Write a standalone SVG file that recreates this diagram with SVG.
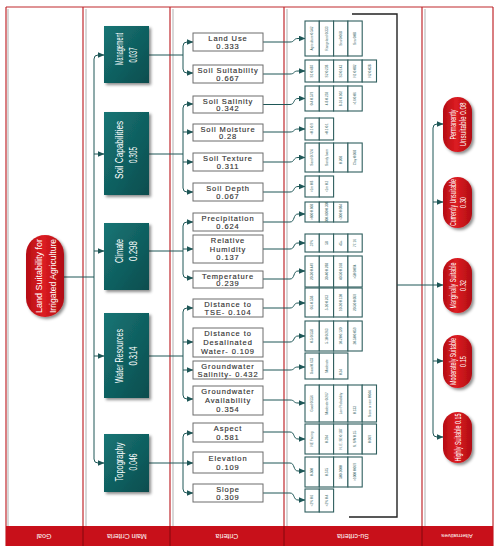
<svg xmlns="http://www.w3.org/2000/svg" width="501" height="550" viewBox="0 0 501 550">
<defs>
<linearGradient id="teal" x1="0" y1="0" x2="1" y2="1"><stop offset="0" stop-color="#177575"/><stop offset="1" stop-color="#0a4d4e"/></linearGradient>
<linearGradient id="red" x1="0" y1="0" x2="1" y2="0"><stop offset="0" stop-color="#b50d14"/><stop offset="0.45" stop-color="#dc1c22"/><stop offset="1" stop-color="#b00c12"/></linearGradient>
<filter id="sh" x="-20%" y="-20%" width="150%" height="150%"><feDropShadow dx="2" dy="2" stdDeviation="1.5" flood-color="#000" flood-opacity="0.45"/></filter>
<marker id="ar" markerWidth="7" markerHeight="6" refX="6.5" refY="3" orient="auto" markerUnits="userSpaceOnUse"><path d="M0,0 L7,3 L0,6 Z" fill="#1e5757"/></marker>
<style>
.col{stroke:#c0282d;stroke-width:1.2;fill:none}
.shd{stroke:#d8d8d8;stroke-width:2;fill:none}
.band{fill:#c8101a}
.bl{font-family:"Liberation Sans",Arial,sans-serif;font-size:7px;fill:#fff;text-anchor:middle}
.mb{fill:url(#teal);filter:url(#sh)}
.mt{font-family:"Liberation Sans Narrow","Liberation Sans",Arial,sans-serif;font-size:10px;fill:#fff;text-anchor:middle}
.pill{fill:url(#red);filter:url(#sh)}
.pt{font-family:"Liberation Sans Narrow","Liberation Sans",Arial,sans-serif;font-size:9px;fill:#fff;text-anchor:middle}
.cb{fill:#fff;stroke:#6d6d6d;stroke-width:1}
.ct{font-family:"Liberation Sans",Arial,sans-serif;font-size:7.5px;letter-spacing:0.9px;fill:#333;stroke:#333;stroke-width:0.15;text-anchor:middle}
.sc{fill:#fff;stroke:#2e5e5e;stroke-width:1.1}
.st{font-family:"Liberation Sans",Arial,sans-serif;font-size:3.2px;fill:#2e5e5e;text-anchor:middle}
.cn{stroke:#1e5757;stroke-width:1;fill:none}
.fr{stroke:#222;stroke-width:1.4;fill:none}
</style>
</defs>
<rect x="0" y="0" width="501" height="550" fill="#fff"/>

<g id="frame">
<line class="shd" x1="8" y1="9" x2="8" y2="526"/>
<line class="shd" x1="86" y1="9" x2="86" y2="526"/>
<line class="shd" x1="173" y1="9" x2="173" y2="526"/>
<line class="shd" x1="287" y1="9" x2="287" y2="526"/>
<line class="shd" x1="425" y1="9" x2="425" y2="526"/>
<line class="col" x1="6" y1="7" x2="493" y2="7"/>
<line class="col" x1="6" y1="7" x2="6" y2="546"/>
<line class="col" x1="83" y1="7" x2="83" y2="526"/>
<line class="col" x1="170" y1="7" x2="170" y2="526"/>
<line class="col" x1="284" y1="7" x2="284" y2="526"/>
<line class="col" x1="422" y1="7" x2="422" y2="526"/>
<line class="col" x1="493" y1="7" x2="493" y2="546"/>
<rect class="band" x="6" y="526" width="487" height="20"/>
<g stroke="#8e0a10" stroke-width="1.2"><line x1="83" y1="526" x2="83" y2="546"/><line x1="170" y1="526" x2="170" y2="546"/><line x1="284" y1="526" x2="284" y2="546"/><line x1="422" y1="526" x2="422" y2="546"/></g>
<text class="bl" transform="translate(44,536) rotate(180)" dy="2.5">Goal</text>
<text class="bl" transform="translate(127,536) rotate(180)" dy="2.5">Main Criteria</text>
<text class="bl" transform="translate(227,536) rotate(180)" dy="2.5">Criteria</text>
<text class="bl" transform="translate(353,536) rotate(180)" dy="2.5">Su-criteria</text>
<text class="bl" transform="translate(457,536) rotate(180)" dy="2.5" style="font-size:6px">Alternatives</text>
</g>

<g id="connectors">
<path class="cn" d="M64,277 H94"/>
<path class="cn" d="M94,277 V59 Q94,55 98,55 H104" marker-end="url(#ar)"/>
<path class="cn" d="M94,277 V459 Q94,463 98,463 H104" marker-end="url(#ar)"/>
<path class="cn" d="M94,154 H104" marker-end="url(#ar)"/>
<path class="cn" d="M94,251 H104" marker-end="url(#ar)"/>
<path class="cn" d="M94,356 H104" marker-end="url(#ar)"/>

<path class="cn" d="M149,55 H183"/>
<path class="cn" d="M183,55 V46 Q183,42 187,42 H193" marker-end="url(#ar)"/>
<path class="cn" d="M183,55 V69 Q183,73 187,73 H193" marker-end="url(#ar)"/>

<path class="cn" d="M149,154 H183"/>
<path class="cn" d="M183,154 V108 Q183,104 187,104 H193" marker-end="url(#ar)"/>
<path class="cn" d="M183,154 V188 Q183,192 187,192 H193" marker-end="url(#ar)"/>
<path class="cn" d="M183,132 H193" marker-end="url(#ar)"/>
<path class="cn" d="M183,162 H193" marker-end="url(#ar)"/>

<path class="cn" d="M149,251 H183"/>
<path class="cn" d="M183,251 V226 Q183,222 187,222 H193" marker-end="url(#ar)"/>
<path class="cn" d="M183,251 V274 Q183,278 187,278 H193" marker-end="url(#ar)"/>
<path class="cn" d="M183,249 H193" marker-end="url(#ar)"/>

<path class="cn" d="M149,356 H183"/>
<path class="cn" d="M183,356 V312 Q183,308 187,308 H193" marker-end="url(#ar)"/>
<path class="cn" d="M183,356 V395 Q183,399 187,399 H193" marker-end="url(#ar)"/>
<path class="cn" d="M183,342 H193" marker-end="url(#ar)"/>
<path class="cn" d="M183,370 H193" marker-end="url(#ar)"/>

<path class="cn" d="M149,463 H183"/>
<path class="cn" d="M183,463 V437 Q183,433 187,433 H193" marker-end="url(#ar)"/>
<path class="cn" d="M183,463 V489 Q183,493 187,493 H193" marker-end="url(#ar)"/>
<path class="cn" d="M183,463 H193" marker-end="url(#ar)"/>

<path class="cn" d="M263,42 H290 C295,42 293,38.5 298,38.5 H305" marker-end="url(#ar)"/>
<path class="cn" d="M263,74 H290 C295,74 293,71 298,71 H305" marker-end="url(#ar)"/>
<path class="cn" d="M263,104.5 H290 C295,104.5 293,98.5 298,98.5 H305" marker-end="url(#ar)"/>
<path class="cn" d="M263,132 H290 C295,132 293,129 298,129 H305" marker-end="url(#ar)"/>
<path class="cn" d="M263,162 H290 C295,162 293,157.5 298,157.5 H305" marker-end="url(#ar)"/>
<path class="cn" d="M263,192 H290 C295,192 293,186.5 298,186.5 H305" marker-end="url(#ar)"/>
<path class="cn" d="M263,222 H290 C295,222 293,214 298,214 H305" marker-end="url(#ar)"/>
<path class="cn" d="M263,249 H290 C295,249 293,243 298,243 H305" marker-end="url(#ar)"/>
<path class="cn" d="M263,279 H290 C295,279 293,271 298,271 H305" marker-end="url(#ar)"/>
<path class="cn" d="M263,308 H290 C295,308 293,303 298,303 H305" marker-end="url(#ar)"/>
<path class="cn" d="M263,342 H290 C295,342 293,336 298,336 H305" marker-end="url(#ar)"/>
<path class="cn" d="M263,370 H290 C295,370 293,367 298,367 H305" marker-end="url(#ar)"/>
<path class="cn" d="M263,400 H290 C295,400 293,403 298,403 H305" marker-end="url(#ar)"/>
<path class="cn" d="M263,432 H290 C295,432 293,439 298,439 H305" marker-end="url(#ar)"/>
<path class="cn" d="M263,463 H290 C295,463 293,471 298,471 H305" marker-end="url(#ar)"/>
<path class="cn" d="M263,493 H290 C295,493 293,500 298,500 H305" marker-end="url(#ar)"/>

<path class="fr" d="M352,14 H397 V517 H349"/>
<path class="cn" d="M397,285 H433"/>
<path class="cn" d="M433,285 V128 Q433,124 437,124 H443" marker-end="url(#ar)"/>
<path class="cn" d="M433,285 V433 Q433,437 437,437 H443" marker-end="url(#ar)"/>
<path class="cn" d="M433,202 H443" marker-end="url(#ar)"/>
<path class="cn" d="M433,285 H443" marker-end="url(#ar)"/>
<path class="cn" d="M433,361 H443" marker-end="url(#ar)"/>
</g>

<g id="goal">
<rect class="pill" x="26" y="235" width="38" height="82" rx="19"/>
<text class="pt" transform="translate(45,276) rotate(-90)" y="-3.5" textLength="74" lengthAdjust="spacingAndGlyphs">Land Suitability for</text>
<text class="pt" transform="translate(45,276) rotate(-90)" y="10.5" textLength="74" lengthAdjust="spacingAndGlyphs">Irrigated Agriculture</text>
</g>

<g id="management">
<rect class="mb" x="104" y="26" width="45" height="57"/>
<text class="mt" transform="translate(126.5,49) rotate(-90)" y="-3.5" textLength="32" lengthAdjust="spacingAndGlyphs">Management</text>
<text class="mt" transform="translate(126.5,55) rotate(-90)" y="10.5" textLength="15" lengthAdjust="spacingAndGlyphs">0.037</text>
</g>
<g id="soil-capabilities">
<rect class="mb" x="104" y="112" width="45" height="83"/>
<text class="mt" transform="translate(126.5,150) rotate(-90)" y="-3.5" textLength="58" lengthAdjust="spacingAndGlyphs">Soil Capabilities</text>
<text class="mt" transform="translate(126.5,155) rotate(-90)" y="10.5" textLength="16" lengthAdjust="spacingAndGlyphs">0.305</text>
</g>
<g id="climate">
<rect class="mb" x="104" y="223" width="45" height="67"/>
<text class="mt" transform="translate(126.5,251) rotate(-90)" y="-3.5" textLength="24" lengthAdjust="spacingAndGlyphs">Climate</text>
<text class="mt" transform="translate(126.5,251) rotate(-90)" y="10.5" textLength="20" lengthAdjust="spacingAndGlyphs">0.298</text>
</g>
<g id="water-resources">
<rect class="mb" x="104" y="313" width="45" height="85"/>
<text class="mt" transform="translate(126.5,356) rotate(-90)" y="-3.5" textLength="54" lengthAdjust="spacingAndGlyphs">Water Resources</text>
<text class="mt" transform="translate(126.5,356) rotate(-90)" y="10.5" textLength="19" lengthAdjust="spacingAndGlyphs">0.314</text>
</g>
<g id="topography">
<rect class="mb" x="104" y="434" width="45" height="58"/>
<text class="mt" transform="translate(126.5,462) rotate(-90)" y="-3.5" textLength="39" lengthAdjust="spacingAndGlyphs">Topography</text>
<text class="mt" transform="translate(126.5,462) rotate(-90)" y="10.5" textLength="17" lengthAdjust="spacingAndGlyphs">0.046</text>
</g>

<g id="criteria">
<g id="land-use"><rect class="cb" x="193" y="33" width="70" height="18"/><text class="ct" x="228" y="41">Land Use</text><text class="ct" x="228" y="49">0.333</text></g>
<g id="soil-suitability"><rect class="cb" x="193" y="65" width="70" height="18"/><text class="ct" x="228" y="73">Soil Suitability</text><text class="ct" x="228" y="81">0.667</text></g>
<g id="soil-salinity"><rect class="cb" x="193" y="96" width="70" height="17"/><text class="ct" x="228" y="103.5">Soil Salinity</text><text class="ct" x="228" y="111">0.342</text></g>
<g id="soil-moisture"><rect class="cb" x="193" y="124" width="70" height="17"/><text class="ct" x="228" y="131.5">Soil Moisture</text><text class="ct" x="228" y="139">0.28</text></g>
<g id="soil-texture"><rect class="cb" x="193" y="153" width="70" height="18"/><text class="ct" x="228" y="161">Soil Texture</text><text class="ct" x="228" y="169">0.311</text></g>
<g id="soil-depth"><rect class="cb" x="193" y="183" width="70" height="18"/><text class="ct" x="228" y="191">Soil Depth</text><text class="ct" x="228" y="199">0.067</text></g>
<g id="precipitation"><rect class="cb" x="193" y="213" width="70" height="18"/><text class="ct" x="228" y="221">Precipitation</text><text class="ct" x="228" y="229">0.624</text></g>
<g id="relative-humidity"><rect class="cb" x="193" y="235" width="70" height="28"/><text class="ct" x="228" y="243">Relative</text><text class="ct" x="228" y="251.5">Humidity</text><text class="ct" x="228" y="260">0.137</text></g>
<g id="temperature"><rect class="cb" x="193" y="271" width="70" height="17"/><text class="ct" x="228" y="278.5">Temperature</text><text class="ct" x="228" y="286">0.239</text></g>
<g id="distance-tse"><rect class="cb" x="193" y="299" width="70" height="18"/><text class="ct" x="228" y="307">Distance to</text><text class="ct" x="228" y="315">TSE- 0.104</text></g>
<g id="distance-desal"><rect class="cb" x="193" y="328" width="70" height="29"/><text class="ct" x="228" y="336">Distance to</text><text class="ct" x="228" y="345">Desalinated</text><text class="ct" x="228" y="354">Water- 0.109</text></g>
<g id="gw-salinity"><rect class="cb" x="193" y="361" width="70" height="18"/><text class="ct" x="228" y="369">Groundwater</text><text class="ct" x="228" y="377">Salinity- 0.432</text></g>
<g id="gw-availability"><rect class="cb" x="193" y="386" width="70" height="29"/><text class="ct" x="228" y="394">Groundwater</text><text class="ct" x="228" y="403">Availability</text><text class="ct" x="228" y="412">0.354</text></g>
<g id="aspect"><rect class="cb" x="193" y="423" width="70" height="19"/><text class="ct" x="228" y="431">Aspect</text><text class="ct" x="228" y="439.5">0.581</text></g>
<g id="elevation"><rect class="cb" x="193" y="452" width="70" height="21"/><text class="ct" x="228" y="461">Elevation</text><text class="ct" x="228" y="470">0.109</text></g>
<g id="slope"><rect class="cb" x="193" y="484" width="70" height="18"/><text class="ct" x="228" y="492">Slope</text><text class="ct" x="228" y="500">0.309</text></g>
</g>

<g id="subcriteria">
<g id="sub-land-use">
<rect class="sc" x="305" y="21" width="14.3" height="35"/><rect class="sc" x="319.3" y="21" width="14.3" height="35"/><rect class="sc" x="333.6" y="21" width="14.3" height="35"/><rect class="sc" x="347.9" y="21" width="14.3" height="35"/>
<text class="st" transform="translate(312.2,38.5) rotate(-90)" dy="1.1">Agriculture 0.542</text><text class="st" transform="translate(326.5,38.5) rotate(-90)" dy="1.1">Rangeland 0.333</text><text class="st" transform="translate(340.8,38.5) rotate(-90)" dy="1.1">Sea 0.068</text><text class="st" transform="translate(355.1,38.5) rotate(-90)" dy="1.1">Sea 0.08</text>
</g>
<g id="sub-soil-suitability">
<rect class="sc" x="305" y="60" width="14.3" height="22"/><rect class="sc" x="319.3" y="60" width="14.3" height="22"/><rect class="sc" x="333.6" y="60" width="14.3" height="22"/><rect class="sc" x="347.9" y="60" width="14.3" height="22"/><rect class="sc" x="362.2" y="60" width="14.3" height="22"/>
<text class="st" transform="translate(312.2,71) rotate(-90)" dy="1.1">S1 0.487</text><text class="st" transform="translate(326.5,71) rotate(-90)" dy="1.1">S2 0.238</text><text class="st" transform="translate(340.8,71) rotate(-90)" dy="1.1">S3 0.143</text><text class="st" transform="translate(355.1,71) rotate(-90)" dy="1.1">N1 0.082</text><text class="st" transform="translate(369.4,71) rotate(-90)" dy="1.1">N2 0.038</text>
</g>
<g id="sub-soil-salinity">
<rect class="sc" x="305" y="86" width="14.3" height="25"/><rect class="sc" x="319.3" y="86" width="14.3" height="25"/><rect class="sc" x="333.6" y="86" width="14.3" height="25"/><rect class="sc" x="347.9" y="86" width="14.3" height="25"/>
<text class="st" transform="translate(312.2,98.5) rotate(-90)" dy="1.1">0-4 0.579</text><text class="st" transform="translate(326.5,98.5) rotate(-90)" dy="1.1">4-8 0.259</text><text class="st" transform="translate(340.8,98.5) rotate(-90)" dy="1.1">8-16 0.102</text><text class="st" transform="translate(355.1,98.5) rotate(-90)" dy="1.1">&gt;16 0.06</text>
</g>
<g id="sub-soil-moisture">
<rect class="sc" x="305" y="118" width="14.3" height="22"/><rect class="sc" x="319.3" y="118" width="14.3" height="22"/>
<text class="st" transform="translate(312.2,129) rotate(-90)" dy="1.1">&lt;0.1 0.9</text><text class="st" transform="translate(326.5,129) rotate(-90)" dy="1.1">&gt;0.1 0.1</text>
</g>
<g id="sub-soil-texture">
<rect class="sc" x="305" y="143" width="14.3" height="29"/><rect class="sc" x="319.3" y="143" width="14.3" height="29"/><rect class="sc" x="333.6" y="143" width="14.3" height="29"/><rect class="sc" x="347.9" y="143" width="14.3" height="29"/>
<text class="st" transform="translate(312.2,157.5) rotate(-90)" dy="1.1">Sand 0.724</text><text class="st" transform="translate(326.5,157.5) rotate(-90)" dy="1.1">Sandy loam</text><text class="st" transform="translate(340.8,160) rotate(-90)" dy="1.1">0.208</text><text class="st" transform="translate(355.1,157.5) rotate(-90)" dy="1.1">Clay 0.068</text>
</g>
<g id="sub-soil-depth">
<rect class="sc" x="305" y="176" width="14.3" height="21"/><rect class="sc" x="319.3" y="176" width="14.3" height="21"/>
<text class="st" transform="translate(312.2,186.5) rotate(-90)" dy="1.1">&gt;1m 0.8</text><text class="st" transform="translate(326.5,186.5) rotate(-90)" dy="1.1">&lt;1m 0.2</text>
</g>
<g id="sub-precipitation">
<rect class="sc" x="305" y="202" width="14.3" height="20"/><rect class="sc" x="319.3" y="202" width="14.3" height="20"/><rect class="sc" x="333.6" y="202" width="14.3" height="20"/>
<text class="st" transform="translate(312.2,212) rotate(-90)" dy="1.1">&gt;600 0.608</text><text class="st" transform="translate(326.5,212) rotate(-90)" dy="1.1">300-600 0.308</text><text class="st" transform="translate(340.8,212) rotate(-90)" dy="1.1">&lt;300 0.084</text>
</g>
<g id="sub-relative-humidity">
<rect class="sc" x="305" y="234" width="14.3" height="18"/><rect class="sc" x="319.3" y="234" width="14.3" height="18"/><rect class="sc" x="333.6" y="234" width="14.3" height="18"/><rect class="sc" x="347.9" y="234" width="14.3" height="18"/>
<text class="st" transform="translate(312.2,243) rotate(-90)" dy="1.1">37%</text><text class="st" transform="translate(326.5,243) rotate(-90)" dy="1.1">58</text><text class="st" transform="translate(340.8,243) rotate(-90)" dy="1.1">45+</text><text class="st" transform="translate(355.1,243) rotate(-90)" dy="1.1">77.16</text>
</g>
<g id="sub-temperature">
<rect class="sc" x="305" y="256" width="14.3" height="31"/><rect class="sc" x="319.3" y="256" width="14.3" height="31"/><rect class="sc" x="333.6" y="256" width="14.3" height="31"/><rect class="sc" x="347.9" y="256" width="14.3" height="31"/>
<text class="st" transform="translate(312.2,271.5) rotate(-90)" dy="1.1">20-30 0.449</text><text class="st" transform="translate(326.5,271.5) rotate(-90)" dy="1.1">30-40 0.288</text><text class="st" transform="translate(340.8,271.5) rotate(-90)" dy="1.1">40-50 0.168</text><text class="st" transform="translate(355.1,271.5) rotate(-90)" dy="1.1">&gt;50 0.094</text>
</g>
<g id="sub-distance-tse">
<rect class="sc" x="305" y="288" width="14.3" height="29"/><rect class="sc" x="319.3" y="288" width="14.3" height="29"/><rect class="sc" x="333.6" y="288" width="14.3" height="29"/><rect class="sc" x="347.9" y="288" width="14.3" height="29"/>
<text class="st" transform="translate(312.2,302.5) rotate(-90)" dy="1.1">0-5 0.558</text><text class="st" transform="translate(326.5,302.5) rotate(-90)" dy="1.1">5-10 0.263</text><text class="st" transform="translate(340.8,302.5) rotate(-90)" dy="1.1">10-20 0.120</text><text class="st" transform="translate(355.1,302.5) rotate(-90)" dy="1.1">20-50 0.059</text>
</g>
<g id="sub-distance-desal">
<rect class="sc" x="305" y="321" width="14.3" height="30"/><rect class="sc" x="319.3" y="321" width="14.3" height="30"/><rect class="sc" x="333.6" y="321" width="14.3" height="30"/><rect class="sc" x="347.9" y="321" width="14.3" height="30"/>
<text class="st" transform="translate(312.2,336) rotate(-90)" dy="1.1">0-5 0.558</text><text class="st" transform="translate(326.5,336) rotate(-90)" dy="1.1">5-10 0.263</text><text class="st" transform="translate(340.8,336) rotate(-90)" dy="1.1">10-20 0.120</text><text class="st" transform="translate(355.1,336) rotate(-90)" dy="1.1">20-50 0.059</text>
</g>
<g id="sub-gw-salinity">
<rect class="sc" x="305" y="353" width="14.3" height="26"/><rect class="sc" x="319.3" y="353" width="14.3" height="26"/><rect class="sc" x="333.6" y="353" width="14.3" height="26"/>
<text class="st" transform="translate(312.2,366) rotate(-90)" dy="1.1">Good 0.633</text><text class="st" transform="translate(326.5,366) rotate(-90)" dy="1.1">Moderate</text><text class="st" transform="translate(340.8,372) rotate(-90)" dy="1.1">0.24</text>
</g>
<g id="sub-gw-availability">
<rect class="sc" x="305" y="385" width="14.3" height="37"/><rect class="sc" x="319.3" y="385" width="14.3" height="37"/><rect class="sc" x="333.6" y="385" width="14.3" height="37"/><rect class="sc" x="347.9" y="385" width="14.3" height="37"/><rect class="sc" x="362.2" y="385" width="14.3" height="37"/>
<text class="st" transform="translate(312.2,403.5) rotate(-90)" dy="1.1">Good 0.556</text><text class="st" transform="translate(326.5,403.5) rotate(-90)" dy="1.1">Moderate 0.267</text><text class="st" transform="translate(340.8,403.5) rotate(-90)" dy="1.1">Low Probability</text><text class="st" transform="translate(355.1,410) rotate(-90)" dy="1.1">0.133</text><text class="st" transform="translate(369.4,403.5) rotate(-90)" dy="1.1">None or rare 0.044</text>
</g>
<g id="sub-aspect">
<rect class="sc" x="305" y="424" width="14.3" height="30"/><rect class="sc" x="319.3" y="424" width="14.3" height="30"/><rect class="sc" x="333.6" y="424" width="14.3" height="30"/><rect class="sc" x="347.9" y="424" width="14.3" height="30"/><rect class="sc" x="362.2" y="424" width="14.3" height="30"/>
<text class="st" transform="translate(312.2,439) rotate(-90)" dy="1.1">NE Facing</text><text class="st" transform="translate(326.5,439) rotate(-90)" dy="1.1">0.394</text><text class="st" transform="translate(340.8,439) rotate(-90)" dy="1.1">N, E, SE 0.187</text><text class="st" transform="translate(355.1,439) rotate(-90)" dy="1.1">N, NW 0.15</text><text class="st" transform="translate(369.4,439) rotate(-90)" dy="1.1">0.069</text>
</g>
<g id="sub-elevation">
<rect class="sc" x="305" y="457" width="14.3" height="30"/><rect class="sc" x="319.3" y="457" width="14.3" height="30"/><rect class="sc" x="333.6" y="457" width="14.3" height="30"/><rect class="sc" x="347.9" y="457" width="14.3" height="30"/>
<text class="st" transform="translate(312.2,472) rotate(-90)" dy="1.1">0-500</text><text class="st" transform="translate(326.5,472) rotate(-90)" dy="1.1">0.575</text><text class="st" transform="translate(340.8,472) rotate(-90)" dy="1.1">500-1000</text><text class="st" transform="translate(355.1,472) rotate(-90)" dy="1.1">&gt;1000 0.069</text>
</g>
<g id="sub-slope">
<rect class="sc" x="305" y="489" width="14.3" height="23"/><rect class="sc" x="319.3" y="489" width="14.3" height="23"/>
<text class="st" transform="translate(312.2,500.5) rotate(-90)" dy="1.1">&lt;2% 0.6</text><text class="st" transform="translate(326.5,500.5) rotate(-90)" dy="1.1">&gt;2% 0.4</text>
</g>
</g>

<g id="permanently-unsuitable">
<rect class="pill" x="443" y="97" width="29" height="55" rx="14.5"/>
<text class="pt" transform="translate(457.5,124.5) rotate(-90)" y="-2" textLength="30" lengthAdjust="spacingAndGlyphs">Permanently</text>
<text class="pt" transform="translate(457.5,124.5) rotate(-90)" y="8" textLength="44" lengthAdjust="spacingAndGlyphs">Unsuitable 0.08</text>
</g>
<g id="currently-unsuitable">
<rect class="pill" x="443" y="177" width="29" height="51" rx="14.5"/>
<text class="pt" transform="translate(457.5,202.5) rotate(-90)" y="-2" textLength="47" lengthAdjust="spacingAndGlyphs">Currently Unsuitable</text>
<text class="pt" transform="translate(457.5,202.5) rotate(-90)" y="8" textLength="11" lengthAdjust="spacingAndGlyphs">0.30</text>
</g>
<g id="marginally-suitable">
<rect class="pill" x="443" y="258" width="29" height="55" rx="14.5"/>
<text class="pt" transform="translate(457.5,285.5) rotate(-90)" y="-2" textLength="46" lengthAdjust="spacingAndGlyphs">Marginally Suitable</text>
<text class="pt" transform="translate(457.5,285.5) rotate(-90)" y="8" textLength="11" lengthAdjust="spacingAndGlyphs">0.32</text>
</g>
<g id="moderately-suitable">
<rect class="pill" x="443" y="335" width="29" height="53" rx="14.5"/>
<text class="pt" transform="translate(457.5,361.5) rotate(-90)" y="-2" textLength="47" lengthAdjust="spacingAndGlyphs">Moderately Suitable</text>
<text class="pt" transform="translate(457.5,361.5) rotate(-90)" y="8" textLength="11" lengthAdjust="spacingAndGlyphs">0.15</text>
</g>
<g id="highly-suitable">
<rect class="pill" x="443" y="412" width="29" height="51" rx="14.5"/>
<text class="pt" transform="translate(457.5,437.5) rotate(-90)" y="3" textLength="48" lengthAdjust="spacingAndGlyphs">Highly Suitable 0.15</text>
</g>
</svg>
